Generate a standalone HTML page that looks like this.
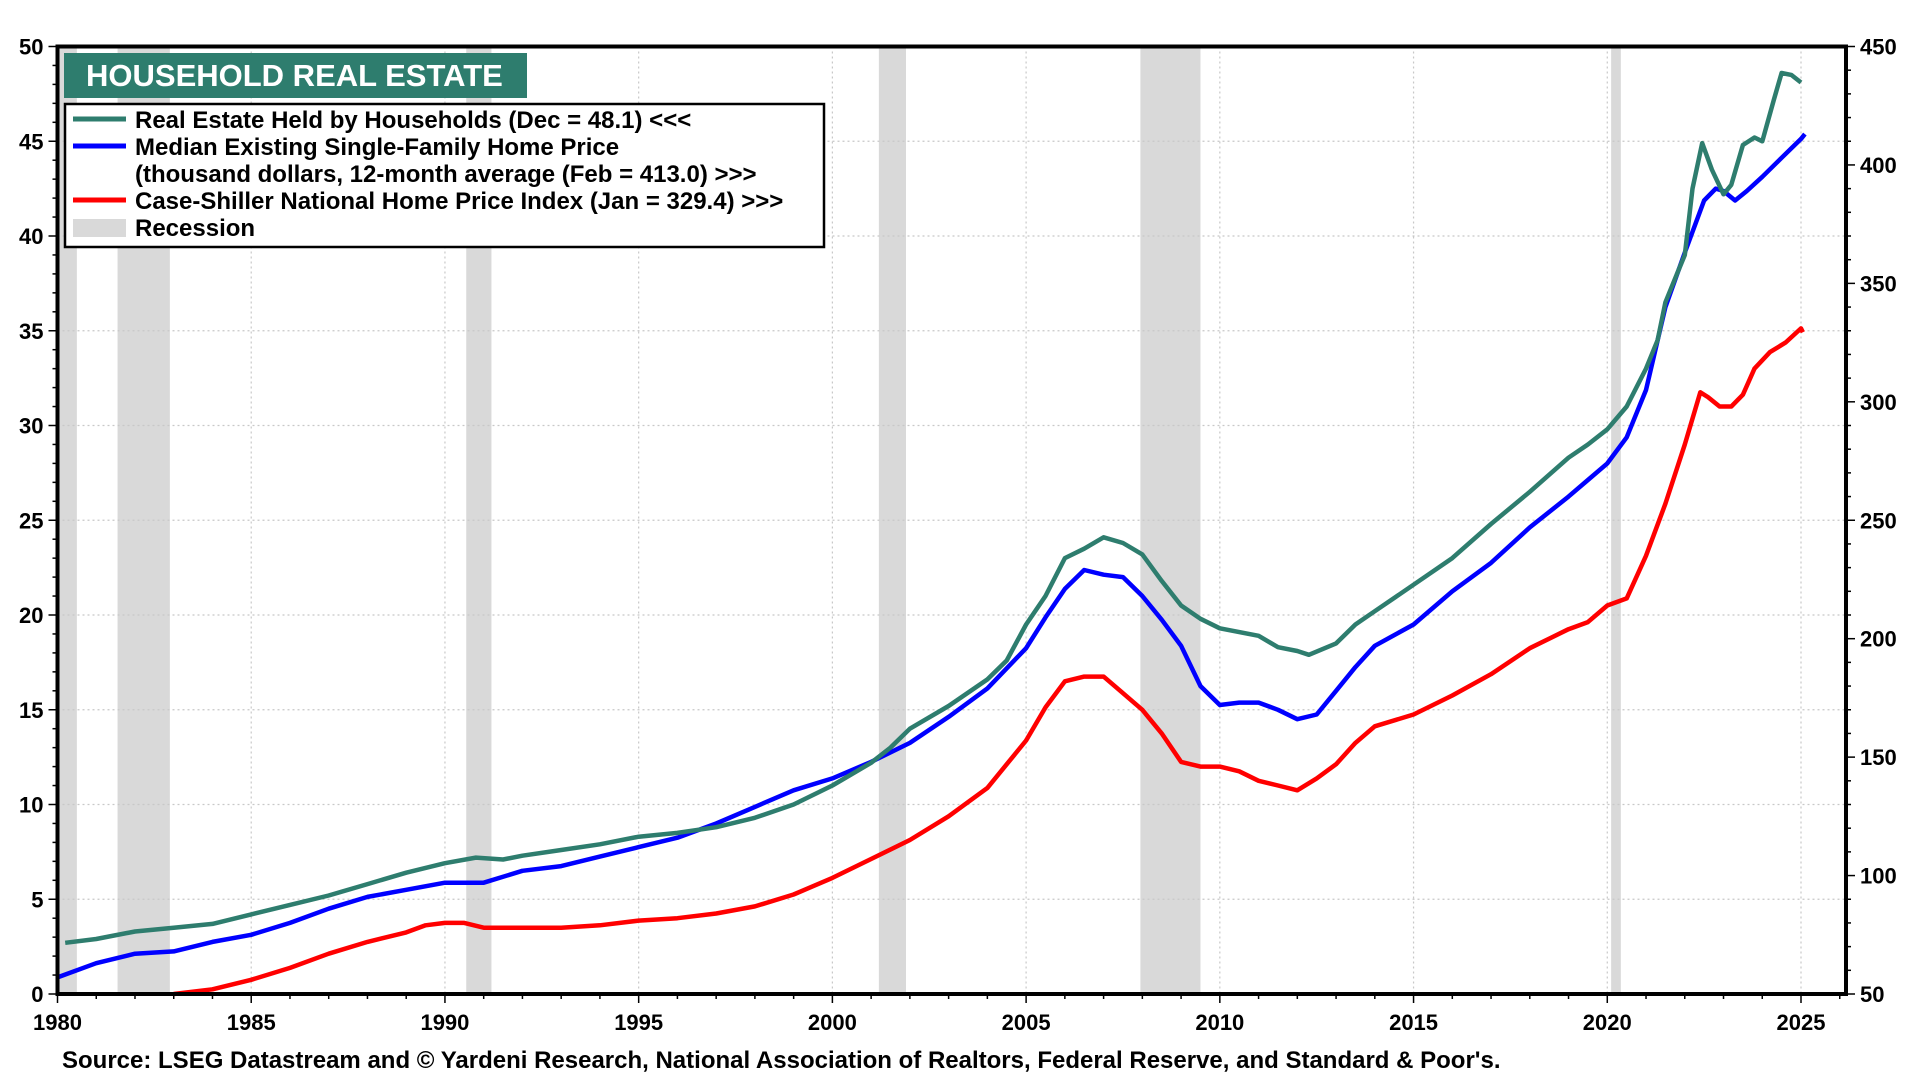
<!DOCTYPE html>
<html><head><meta charset="utf-8"><style>
html,body{margin:0;padding:0;background:#fff;}
svg{display:block;font-family:"Liberation Sans",Arial,sans-serif;font-weight:bold;}
</style></head><body>
<svg id="chart" width="1920" height="1080" viewBox="0 0 1920 1080" xmlns="http://www.w3.org/2000/svg"></svg>
<script>
const recessionStarts=[1980.0,1981.55,1990.55,2001.2,2007.95,2020.1];
const recessionEnds=[1980.5,1982.9,1991.2,2001.9,2009.5,2020.35];
const xTicks=[1980,1985,1990,1995,2000,2005,2010,2015,2020,2025];
const leftTicks=[0,5,10,15,20,25,30,35,40,45,50];
const rightTicks=[50,100,150,200,250,300,350,400,450];
const greenX=[1980.2,1981,1982,1983,1984,1985,1986,1987,1988,1989,1990,1990.8,1991.5,1992,1993,1994,1995,1996,1997,1998,1999,2000,2001,2001.5,2002,2003,2004,2004.5,2005,2005.5,2006,2006.5,2007,2007.5,2008,2008.5,2009,2009.5,2010,2011,2011.5,2012,2012.3,2013,2013.5,2014,2015,2016,2017,2018,2019,2019.5,2020,2020.5,2021,2021.3,2021.5,2021.8,2022,2022.2,2022.45,2022.7,2023,2023.2,2023.5,2023.8,2024,2024.3,2024.5,2024.75,2025];
const greenY=[2.7,2.9,3.3,3.5,3.7,4.2,4.7,5.2,5.8,6.4,6.9,7.2,7.1,7.3,7.6,7.9,8.3,8.5,8.8,9.3,10.0,11.0,12.2,13.0,14.0,15.2,16.6,17.6,19.5,21,23,23.5,24.1,23.8,23.2,21.8,20.5,19.8,19.3,18.9,18.3,18.1,17.9,18.5,19.5,20.2,21.6,23.0,24.8,26.5,28.3,29,29.8,31,33,34.5,36.5,38,39,42.5,44.9,43.5,42.2,42.7,44.8,45.2,45,47.2,48.6,48.5,48.1];
const blueX=[1980,1981,1982,1983,1984,1985,1986,1987,1988,1989,1990,1991,1992,1993,1994,1995,1996,1997,1998,1999,2000,2001,2002,2003,2004,2005,2005.5,2006,2006.5,2007,2007.5,2008,2008.5,2009,2009.5,2010,2010.5,2011,2011.5,2012,2012.5,2013,2013.5,2014,2015,2016,2017,2018,2019,2019.5,2020,2020.5,2021,2021.5,2022,2022.5,2022.8,2023,2023.3,2023.6,2024,2024.5,2025,2025.1];
const blueY=[57,63,67,68,72,75,80,86,91,94,97,97,102,104,108,112,116,122,129,136,141,148,156,167,179,196,209,221,229,227,226,218,208,197,180,172,173,173,170,166,168,178,188,197,206,220,232,247,260,267,274,285,305,340,363,385,390,389,385,389,395,403,411,413];
const redX=[1983,1984,1985,1986,1987,1988,1989,1989.5,1990,1990.5,1991,1992,1993,1994,1995,1996,1997,1998,1999,2000,2001,2002,2003,2004,2005,2005.5,2006,2006.5,2007,2007.5,2008,2008.5,2009,2009.5,2010,2010.5,2011,2011.5,2012,2012.5,2013,2013.5,2014,2015,2016,2017,2018,2019,2019.5,2020,2020.5,2021,2021.5,2022,2022.4,2022.6,2022.9,2023.2,2023.5,2023.8,2024.2,2024.6,2025,2025.05];
const redY=[50,52,56,61,67,72,76,79,80,80,78,78,78,79,81,82,84,87,92,99,107,115,125,137,157,171,182,184,184,177,170,160,148,146,146,144,140,138,136,141,147,156,163,168,176,185,196,204,207,214,217,235,257,282,304,302,298,298,303,314,321,325,331,329.4];

const L=57.5,R=1846,T=46.5,B=994;
const x=v=>L+(v-1980)*(1801-57.5)/45;
const yl=v=>B-v*(B-T)/50;
const yr=v=>B-(v-50)*(B-T)/400;
const NS="http://www.w3.org/2000/svg";
const svg=document.getElementById('chart');
function mk(tag,attrs,parent){const e=document.createElementNS(NS,tag);for(const k in attrs)e.setAttribute(k,attrs[k]);(parent||svg).appendChild(e);return e;}

for(let i=0;i<recessionStarts.length;i++){
  const r=mk('rect',{x:x(recessionStarts[i]),y:T,width:x(recessionEnds[i])-x(recessionStarts[i]),height:B-T,fill:'#d9d9d9'});
  
  
}
xTicks.forEach(t=>{if(t>1980){const g=mk('line',{x1:x(t),x2:x(t),y1:T,y2:B,stroke:'#c8c8c8','stroke-width':1.2,'stroke-dasharray':'2,3'});

}});
leftTicks.forEach(t=>{if(t>0&&t<50){const g=mk('line',{x1:L,x2:R,y1:yl(t),y2:yl(t),stroke:'#c8c8c8','stroke-width':1.2,'stroke-dasharray':'2,3'});

}});

function series(xs,ys,f,color,name){
  const d=xs.map((v,i)=>(i?'L':'M')+x(v).toFixed(1)+','+f(ys[i]).toFixed(1)).join('');
  const p=mk('path',{d:d,fill:'none',stroke:color,'stroke-width':4.5,'stroke-linejoin':'round'});
  
  
}
series(redX,redY,yr,'#ff0000','case-shiller-line');
series(blueX,blueY,yr,'#0000ff','median-home-price-line');
series(greenX,greenY,yl,'#2e7d6e','household-real-estate-line');

const fr=mk('rect',{x:L,y:T,width:R-L,height:B-T,fill:'none',stroke:'#000','stroke-width':4});



for(let yv=1980;yv<=2026;yv++){
  mk('line',{x1:x(yv),x2:x(yv),y1:B,y2:B+(yv%5===0?9:5),stroke:'#000','stroke-width':1.5});
}
xTicks.forEach(t=>{const e=mk('text',{x:x(t),y:B+36,'text-anchor':'middle','font-size':22,fill:'#000'});e.textContent=t;

});
for(let v=0;v<=50;v++){mk('line',{x1:L-(v%5===0?9:5),x2:L,y1:yl(v),y2:yl(v),stroke:'#000','stroke-width':1.5});}
leftTicks.forEach(t=>{const e=mk('text',{x:L-14,y:yl(t)+8,'text-anchor':'end','font-size':22,fill:'#000'});e.textContent=t;

});
for(let v=50;v<=450;v+=10){mk('line',{x1:R,x2:R+(v%50===0?9:5),y1:yr(v),y2:yr(v),stroke:'#000','stroke-width':1.5});}
rightTicks.forEach(t=>{const e=mk('text',{x:R+14,y:yr(t)+8,'text-anchor':'start','font-size':22,fill:'#000'});e.textContent=t;

});

const tb=mk('rect',{x:64,y:53,width:463,height:45,fill:'#2e7d6e'});


const tt=mk('text',{x:86,y:86,'font-size':31,fill:'#fff'});tt.textContent='HOUSEHOLD REAL ESTATE';



const lg=mk('g',{});


mk('rect',{x:65,y:104,width:759,height:143,fill:'#fff',stroke:'#000','stroke-width':2.5},lg);
const items=[['#2e7d6e','Real Estate Held by Households (Dec = 48.1) <<<',128],['#0000ff','Median Existing Single-Family Home Price',155],[null,'(thousand dollars, 12-month average (Feb = 413.0) >>>',182],['#ff0000','Case-Shiller National Home Price Index (Jan = 329.4) >>>',209]];
items.forEach(it=>{
  if(it[0]) mk('line',{x1:73,x2:126,y1:it[2]-9,y2:it[2]-9,stroke:it[0],'stroke-width':5},lg);
  const e=mk('text',{x:135,y:it[2],'font-size':24,fill:'#000'},lg);e.textContent=it[1];
  
  
});
mk('rect',{x:73,y:219,width:53,height:18,fill:'#d9d9d9'},lg);
const re=mk('text',{x:135,y:236,'font-size':24,fill:'#000'},lg);re.textContent='Recession';



const src=mk('text',{x:62,y:1068,'font-size':24,fill:'#000'});
src.textContent="Source: LSEG Datastream and © Yardeni Research, National Association of Realtors, Federal Reserve, and Standard & Poor's.";


</script>
</body></html>
